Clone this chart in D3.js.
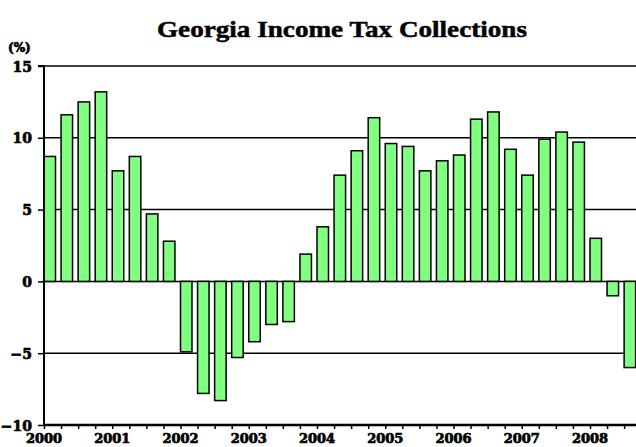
<!DOCTYPE html>
<html>
<head>
<meta charset="utf-8">
<script src="https://cdn.jsdelivr.net/npm/d3@7"></script>
<style>
    body { margin: 0; background: #fff; }
    svg { display: block; }
    text { font-family: "DejaVu Serif", serif; font-weight: bold; fill: #000; }
    .lbl { stroke: #000; stroke-width: 0.7px; }
</style>
</head>
<body>
<svg id="chart" width="636" height="447"></svg>
<script>
// quarterly % change, 2000 Q1 .. 2008 Q3
const years = [2000, 2001, 2002, 2003, 2004, 2005, 2006, 2007, 2008];
const quarters = ["Q1", "Q2", "Q3", "Q4"];
const values = [
    8.7, 11.6, 12.5, 13.2,
    7.7, 8.7, 4.7, 2.8,
    -4.9, -7.8, -8.3, -5.3,
    -4.2, -3.0, -2.8, 1.9,
    3.8, 7.4, 9.1, 11.4,
    9.6, 9.4, 7.7, 8.4,
    8.8, 11.3, 11.8, 9.2,
    7.4, 9.9, 10.4, 9.7,
    3.0, -1.0, -6.0
];
const yTicks = [-10, -5, 0, 5, 10, 15];

const svg = d3.select("#chart");
const W = 636;

const x = d3.scaleLinear().domain([2000, 2009]).range([44, 44 + 68.25 * 9]);
const y = d3.scaleLinear().domain([-10, 15]).range([425, 66]);
const barW = 11.5;

// title
svg.append("text")
    .attr("x", 342).attr("y", 37)
    .attr("text-anchor", "middle")
    .attr("textLength", 370)
    .attr("lengthAdjust", "spacingAndGlyphs")
    .style("font-family", "\"Liberation Serif\", serif")
    .style("font-size", "24px")
    .style("stroke", "#000")
    .style("stroke-width", 0.5)
    .text("Georgia Income Tax Collections");

svg.append("text")
    .attr("class", "lbl")
    .attr("x", 8).attr("y", 52)
    .style("font-size", "12px")
    .text("(%)");

// grid lines
svg.append("g")
    .selectAll("line")
    .data(yTicks.filter(d => d > -10))
    .join("line")
    .attr("x1", x(2000)).attr("x2", W)
    .attr("y1", d => y(d)).attr("y2", d => y(d))
    .attr("stroke", "#000")
    .attr("stroke-width", 1.5);

// bars
const data = values.map((v, i) => ({ t: 2000 + i / 4, v }));
svg.append("g")
    .selectAll("rect")
    .data(data)
    .join("rect")
    .attr("x", d => x(d.t))
    .attr("width", barW)
    .attr("y", d => y(Math.max(0, d.v)))
    .attr("height", d => Math.abs(y(d.v) - y(0)))
    .attr("fill", "#80ff80")
    .attr("stroke", "#000")
    .attr("stroke-width", 1.5);

// y axis
const yAxis = svg.append("g")
    .attr("transform", `translate(${x(2000)},0)`)
    .call(d3.axisLeft(y).tickValues(yTicks).tickSize(6).tickFormat(d3.format("d")));
yAxis.attr("font-family", null).attr("font-size", null);
yAxis.select(".domain").attr("stroke-width", 2).attr("d", `M-6,${y(15)}H0V${y(-10)}`);
yAxis.selectAll(".tick line").attr("stroke-width", 1.5);
yAxis.selectAll(".tick text")
    .attr("class", "lbl")
    .attr("x", -12)
    .attr("dy", "0.36em")
    .style("font-size", "14px");

// x axis
const qTicks = d3.range(0, 36).map(i => 2000 + i / 4).filter(t => x(t) <= W);
const xAxis = svg.append("g")
    .attr("transform", `translate(0,${y(-10)})`)
    .call(d3.axisBottom(x).tickValues(qTicks).tickSize(4).tickFormat(""));
xAxis.select(".domain").attr("stroke-width", 2.5).attr("d", `M${x(2000)},0H${W}`);
xAxis.selectAll(".tick line").attr("stroke-width", 1.5);

svg.append("g")
    .selectAll("text")
    .data(years)
    .join("text")
    .attr("class", "lbl")
    .attr("x", d => x(d))
    .attr("y", 443)
    .attr("text-anchor", "middle")
    .style("font-size", "13px")
    .text(d => d);
</script>
</body>
</html>
